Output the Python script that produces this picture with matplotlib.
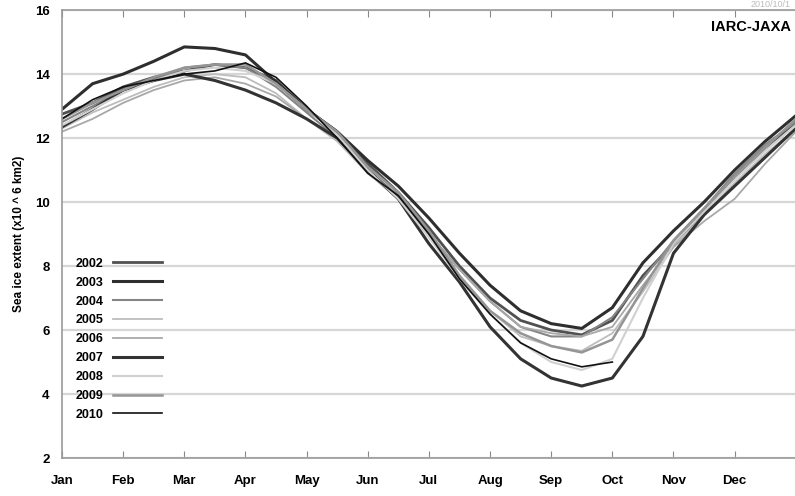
import matplotlib.pyplot as plt

plt.rcParams['font.family'] = ['Liberation Sans', 'DejaVu Sans']

# month position (0 = Jan 1, 12 = Dec 31), half-month steps
months = [0, 0.5, 1, 1.5, 2, 2.5, 3, 3.5, 4, 4.5, 5, 5.5, 6, 6.5, 7, 7.5,
          8, 8.5, 9, 9.5, 10, 10.5, 11, 11.5, 12]
month_labels = ["Jan", "Feb", "Mar", "Apr", "May", "Jun",
                "Jul", "Aug", "Sep", "Oct", "Nov", "Dec"]

# sea ice extent (x10^6 km2)
ext_2002 = [12.75, 13.1, 13.6, 13.9, 14.1, 14.3, 14.2, 13.8, 12.9, 12.2, 11.2, 10.3, 9.2,
            8.0, 7.0, 6.3, 6.0, 5.85, 6.3, 7.7, 8.7, 9.7, 10.8, 11.7, 12.5]
ext_2003 = [12.9, 13.7, 14.0, 14.4, 14.85, 14.8, 14.6, 13.75, 12.9, 12.2, 11.3, 10.5, 9.5,
            8.4, 7.4, 6.6, 6.2, 6.05, 6.7, 8.1, 9.1, 10.0, 11.0, 11.9, 12.7]
ext_2004 = [12.5, 13.0, 13.5, 13.8, 14.2, 14.3, 14.2, 13.6, 12.8, 12.0, 11.0, 10.2, 9.0,
            7.9, 6.9, 6.1, 5.8, 5.8, 6.4, 7.6, 8.8, 9.8, 10.9, 11.8, 12.5]
ext_2005 = [12.3, 12.8, 13.2, 13.6, 13.9, 14.0, 13.9, 13.4, 12.6, 11.9, 10.9, 10.1, 8.9,
            7.7, 6.6, 5.8, 5.5, 5.35, 5.9, 7.2, 8.6, 9.6, 10.6, 11.5, 12.3]
ext_2006 = [12.2, 12.6, 13.1, 13.5, 13.8, 13.9, 13.7, 13.3, 12.6, 12.0, 11.1, 10.3, 9.0,
            7.9, 6.9, 6.1, 5.9, 5.8, 6.1, 7.4, 8.6, 9.4, 10.1, 11.2, 12.2]
ext_2007 = [12.35, 12.9, 13.5, 13.8, 14.0, 13.8, 13.5, 13.1, 12.6, 12.0, 11.0, 10.1, 8.7,
            7.5, 6.1, 5.1, 4.5, 4.25, 4.5, 5.8, 8.4, 9.6, 10.5, 11.4, 12.3]
ext_2008 = [12.4, 12.9, 13.4, 13.8, 14.1, 14.2, 14.1, 13.7, 12.9, 12.1, 11.0, 10.1, 8.9,
            7.6, 6.5, 5.6, 5.0, 4.75, 5.1, 7.0, 8.7, 9.7, 10.7, 11.6, 12.4]
ext_2009 = [12.6, 13.1, 13.5, 13.9, 14.2, 14.3, 14.3, 13.7, 12.9, 12.2, 11.1, 10.3, 9.1,
            7.7, 6.6, 5.9, 5.5, 5.3, 5.7, 7.3, 8.8, 9.8, 10.8, 11.7, 12.6]
ext_2010 = [12.6, 13.2, 13.6, 13.8, 14.0, 14.1, 14.35, 13.9, 13.0, 12.0, 10.9, 10.2, 9.0,
            7.6, 6.5, 5.6, 5.1, 4.85, 5.0]  # data up to 2010/10/1

years = ["2002", "2003", "2004", "2005", "2006", "2007", "2008", "2009", "2010"]
series = [ext_2002, ext_2003, ext_2004, ext_2005, ext_2006, ext_2007, ext_2008, ext_2009, ext_2010]
colors = ["#505050", "#2e2e2e", "#858585", "#bdbdbd", "#a8a8a8", "#333333", "#d0d0d0", "#959595", "#111111"]
widths = [2.0, 2.2, 1.5, 1.3, 1.3, 2.2, 1.5, 1.8, 1.2]

fig = plt.figure(figsize=(7.95, 4.96), dpi=100)
ax = fig.add_axes([0.078, 0.0766, 0.923, 0.903])

for yr, vals, c, lw in zip(years, series, colors, widths):
    ax.plot(months[:len(vals)], vals, color=c, lw=lw, label=yr)

ax.set_xlim(0, 12)
ax.set_ylim(2, 16)
ax.set_yticks(range(2, 17, 2))
ax.set_yticklabels([str(v) for v in range(2, 17, 2)], fontsize=9.5, fontweight="bold")
ax.set_xticks(range(12))
ax.set_xticklabels(month_labels, fontsize=9.5, fontweight="bold")
ax.tick_params(axis="x", direction="in", length=5, top=True, color="#888888", pad=12)
ax.tick_params(axis="y", length=0, pad=9)
ax.grid(axis="y", color="#d6d6d6", lw=1.6)
ax.set_axisbelow(True)
for sp in ax.spines.values():
    sp.set_color("#999999")
    sp.set_linewidth(1.2)

ax.set_ylabel("Sea ice extent (x10 ^ 6 km2)", fontsize=8.5, fontweight="bold", labelpad=7)

leg = ax.legend(loc="upper left", bbox_to_anchor=(0.003, 0.472), frameon=False, markerfirst=False,
                handlelength=3.9, handletextpad=0.8, labelspacing=0.55,
                prop={"size": 9, "weight": "bold"})

fig.text(0.995, 0.946, "IARC-JAXA", ha="right", va="center", fontsize=10.5, fontweight="bold")
fig.text(0.995, 0.999, "2010/10/1", ha="right", va="top", fontsize=6.5, color="#bbbbbb")

fig.savefig("out.png", dpi=100)
